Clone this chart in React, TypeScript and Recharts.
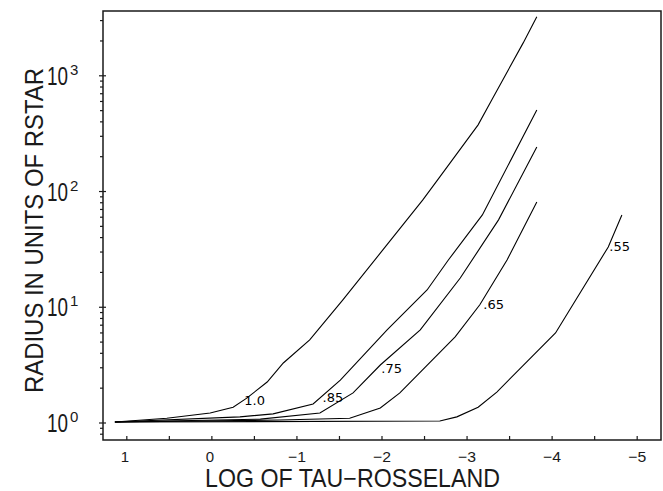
import React from 'react';
import { LineChart, Line, XAxis, YAxis, ReferenceArea, ReferenceDot } from 'recharts';

// log tau-Rosseland (x) and radius in R* (y)
const tau100 = [1.14, 0.53, 0.02, -0.25, -0.41, -0.65, -0.84, -1.15, -1.54, -2.01, -2.48, -2.68, -3.13, -3.29, -3.66, -3.82];
const rad100 = [1.02, 1.1, 1.22, 1.37, 1.64, 2.26, 3.3, 5.22, 11.6, 31.3, 84.6, 134, 377, 619, 1925, 3230];

const tau085 = [1.14, -0.33, -0.72, -1.19, -1.51, -2.06, -2.53, -2.78, -3.18, -3.82];
const rad085 = [1.02, 1.13, 1.2, 1.46, 2.35, 6.37, 14.1, 25.6, 62.8, 507];

const tau075 = [1.14, -0.57, -1.27, -1.66, -1.98, -2.45, -2.92, -3.37, -3.82];
const rad075 = [1.02, 1.08, 1.22, 1.82, 3.17, 6.37, 17.9, 56.9, 243];

const tau065 = [1.14, -0.8, -1.62, -1.98, -2.21, -2.86, -3.15, -3.47, -3.82];
const rad065 = [1.02, 1.06, 1.1, 1.35, 1.82, 5.54, 10.5, 25.6, 81.3];

const tau055 = [1.14, -2.68, -2.88, -3.13, -3.35, -4.04, -4.66, -4.82];
const rad055 = [1.02, 1.04, 1.13, 1.37, 1.85, 6.0, 33.2, 62.8];

const curveLabels = ['1.0', '.85', '.75', '.65', '.55'];
const labelTau = [-0.37, -1.29, -1.98, -3.18, -4.66];
const labelRad = [1.58, 1.65, 2.99, 10.5, 33.9];

const xTicks = [1, 0.5, 0, -0.5, -1, -1.5, -2, -2.5, -3, -3.5, -4, -4.5, -5];
const yTicks = [
  0.8, 0.9, 1, 2, 3, 4, 5, 6, 7, 8, 9, 10, 20, 30, 40, 50, 60, 70, 80, 90,
  100, 200, 300, 400, 500, 600, 700, 800, 900, 1000, 2000, 3000,
];

const X_DOMAIN: [number, number] = [-5.28, 1.28];
const Y_DOMAIN: [number, number] = [0.713, 3630];

const FONT = "'Liberation Sans', 'DejaVu Sans', sans-serif";
const INK = '#1a1a1a';

const zip = (t: number[], r: number[]) => t.map((x, i) => ({ x, r: r[i] }));

const curves = [
  zip(tau100, rad100),
  zip(tau085, rad085),
  zip(tau075, rad075),
  zip(tau065, rad065),
  zip(tau055, rad055),
];

const YTick = (props: any) => {
  const { x, y, payload } = props;
  const lg = Math.log10(payload.value);
  const major = Math.abs(lg - Math.round(lg)) < 1e-9;
  return (
    <g>
      <line x1={x - (major ? 4 : 3)} x2={major ? x + 3 : x} y1={y} y2={y} stroke={INK} strokeWidth={1.2} />
      {major && (
        <>
          <text
            x={x - 56}
            y={y + 9}
            fontSize={25}
            fontFamily={FONT}
            fill={INK}
            textLength={21}
            lengthAdjust="spacingAndGlyphs"
          >
            10
          </text>
          <text x={x - 33} y={y - 1} fontSize={15} fontFamily={FONT} fill={INK}>
            {Math.round(lg)}
          </text>
        </>
      )}
    </g>
  );
};

const XTick = (props: any) => {
  const { x, y, payload } = props;
  const v = payload.value;
  const major = Number.isInteger(v);
  const neg = v < 0;
  return (
    <g>
      <line x1={x} x2={x} y1={y} y2={y - 4} stroke={INK} strokeWidth={1.2} />
      {major &&
        (neg ? (
          <text
            x={x - 9}
            y={y + 22}
            fontSize={15}
            fontFamily={FONT}
            fill={INK}
            textLength={18}
            lengthAdjust="spacingAndGlyphs"
          >
            {'\u2212' + Math.abs(v)}
          </text>
        ) : (
          <text x={x - 2} y={y + 22} textAnchor="middle" fontSize={15} fontFamily={FONT} fill={INK}>
            {String(v)}
          </text>
        ))}
    </g>
  );
};

const XTitle = (props: any) => {
  const { viewBox } = props;
  return (
    <text
      x={viewBox.x + 102}
      y={viewBox.y + 47}
      fontSize={25}
      fontFamily={FONT}
      fill={INK}
      textLength={295}
      lengthAdjust="spacingAndGlyphs"
    >
      LOG OF TAU{'\u2212'}ROSSELAND
    </text>
  );
};

const YTitle = (props: any) => {
  const { viewBox } = props;
  const cx = viewBox.x + 43;
  const cy = viewBox.y + 219.5;
  return (
    <text
      x={cx - 162.5}
      y={cy}
      transform={`rotate(-90, ${cx}, ${cy})`}
      fontSize={25}
      fontFamily={FONT}
      fill={INK}
      textLength={325}
      lengthAdjust="spacingAndGlyphs"
    >
      RADIUS IN UNITS OF RSTAR
    </text>
  );
};

export default function App() {
  return (
    <div style={{ position: 'absolute', left: 0, top: 0, width: 663, height: 491, background: '#fff' }}>
      <LineChart width={663} height={491} margin={{ top: 11, right: 2, bottom: 0, left: 0 }}>
        <XAxis
          type="number"
          dataKey="x"
          domain={X_DOMAIN}
          reversed
          allowDataOverflow
          ticks={xTicks}
          interval={0}
          tick={<XTick />}
          tickSize={0}
          tickMargin={0}
          axisLine={false}
          tickLine={false}
          height={51}
          label={<XTitle />}
        />
        <YAxis
          type="number"
          dataKey="r"
          scale="log"
          domain={Y_DOMAIN}
          allowDataOverflow
          ticks={yTicks}
          interval={0}
          tick={<YTick />}
          tickSize={0}
          tickMargin={0}
          axisLine={false}
          tickLine={false}
          width={103}
          label={<YTitle />}
        />
        <ReferenceArea
          x1={X_DOMAIN[0]}
          x2={X_DOMAIN[1]}
          y1={Y_DOMAIN[0]}
          y2={Y_DOMAIN[1]}
          fill="none"
          stroke={INK}
          strokeWidth={1.5}
        />
        {curves.map((d, i) => (
          <Line
            key={curveLabels[i]}
            data={d}
            dataKey="r"
            type="linear"
            stroke="#000"
            strokeWidth={1.1}
            dot={false}
            activeDot={false}
            isAnimationActive={false}
          />
        ))}
        {curveLabels.map((lbl, i) => (
          <ReferenceDot
            key={'lbl' + lbl}
            x={labelTau[i]}
            y={labelRad[i]}
            r={1}
            fill="none"
            stroke="none"
            label={{ value: lbl, position: 'right', offset: 0, fontSize: 13, fill: '#000', fontFamily: 'DejaVu Sans' }}
          />
        ))}
      </LineChart>
    </div>
  );
}
